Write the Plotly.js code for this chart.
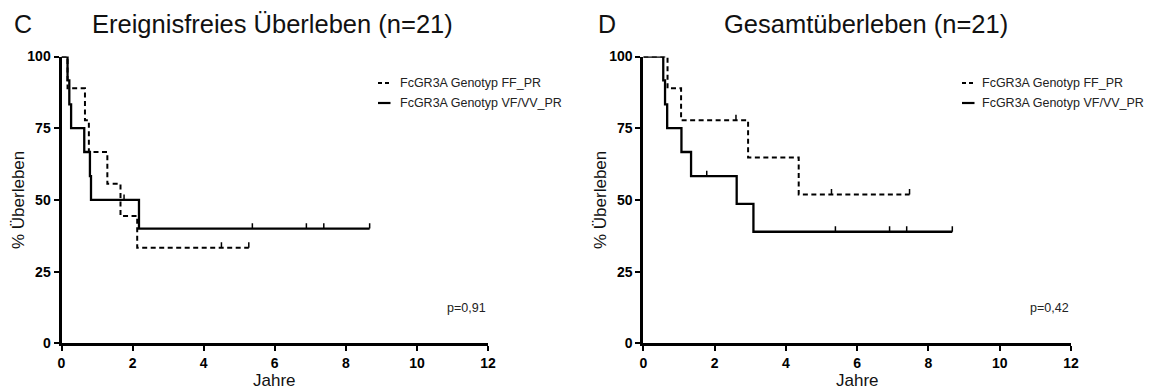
<!DOCTYPE html>
<html>
<head>
<meta charset="utf-8">
<script src="https://cdn.plot.ly/plotly-3.0.1.min.js"></script>
<style>
  html, body { margin: 0; padding: 0; background: #fff; }
  #chart { width: 1157px; height: 390px; }
</style>
</head>
<body>
<div id="chart"></div>
<script>
// Panel C: event-free survival (Kaplan-Meier steps, % surviving after each event)
const efsFFTimes = [0, 0.17, 0.66, 0.77, 1.29, 1.66, 2.13, 5.27];
const efsFFSurv  = [100, 88.9, 77.8, 66.7, 55.6, 44.4, 33.3, 33.3];
const efsFFCens  = [4.5, 5.27];
const efsVVTimes = [0, 0.17, 0.22, 0.27, 0.64, 0.80, 0.83, 2.18, 8.67];
const efsVVSurv  = [100, 91.7, 83.3, 75, 66.7, 58.3, 50, 40, 40];
const efsVVCens  = [1.76, 5.37, 6.89, 7.38, 8.67];

// Panel D: overall survival
const osFFTimes = [0, 0.68, 1.06, 2.94, 4.36, 7.47];
const osFFSurv  = [100, 88.9, 77.8, 64.8, 51.9, 51.9];
const osFFCens  = [2.6, 5.28, 7.47];
const osVVTimes = [0, 0.56, 0.61, 0.67, 1.07, 1.34, 2.62, 3.09, 8.67];
const osVVSurv  = [100, 91.7, 83.3, 75, 66.7, 58.3, 48.6, 38.9, 38.9];
const osVVCens  = [1.78, 5.39, 6.91, 7.39, 8.67];

const seriesNames  = ['FcGR3A Genotyp FF_PR', 'FcGR3A Genotyp VF/VV_PR'];
const panelLetters = ['C', 'D'];
const panelTitles  = ['Ereignisfreies Überleben (n=21)', 'Gesamtüberleben (n=21)'];
const pValues      = ['p=0,91', 'p=0,42'];
const xTitle = 'Jahre';
const yTitle = '% Überleben';
const xTicks = [0, 2, 4, 6, 8, 10, 12];
const yTicks = [0, 25, 50, 75, 100];

const W = 1157, H = 390;
const FONT = 'Liberation Sans, Arial, Helvetica, sans-serif';
const fx = px => px / W;
const fy = py => 1 - py / H;

// survival level of a step curve at time t
function survAt(times, surv, t) {
  let s = surv[0];
  for (let i = 0; i < times.length; i++) if (times[i] <= t) s = surv[i];
  return s;
}

const DASH = '5px,3.5px';

function curve(times, surv, dashed, xa, ya) {
  return {
    type: 'scatter', mode: 'lines', x: times, y: surv, xaxis: xa, yaxis: ya,
    line: { shape: 'hv', color: '#000', width: dashed ? 2 : 2.3, dash: dashed ? DASH : 'solid' },
    cliponaxis: false, showlegend: false, hoverinfo: 'skip'
  };
}

function censorTicks(cens, times, surv, xa, ya) {
  return {
    type: 'scatter', mode: 'markers', x: cens, y: cens.map(t => survAt(times, surv, t)),
    xaxis: xa, yaxis: ya,
    marker: { size: 1, color: 'rgba(0,0,0,0)' },
    error_y: { type: 'data', symmetric: false, array: cens.map(() => 1.9),
               arrayminus: cens.map(() => 0), width: 0, thickness: 1.5, color: '#000' },
    cliponaxis: false, showlegend: false, hoverinfo: 'skip'
  };
}

const data = [
  curve(efsFFTimes, efsFFSurv, true, 'x', 'y'),
  curve(efsVVTimes, efsVVSurv, false, 'x', 'y'),
  censorTicks(efsFFCens, efsFFTimes, efsFFSurv, 'x', 'y'),
  censorTicks(efsVVCens, efsVVTimes, efsVVSurv, 'x', 'y'),
  curve(osFFTimes, osFFSurv, true, 'x2', 'y2'),
  curve(osVVTimes, osVVSurv, false, 'x2', 'y2'),
  censorTicks(osFFCens, osFFTimes, osFFSurv, 'x2', 'y2'),
  censorTicks(osVVCens, osVVTimes, osVVSurv, 'x2', 'y2')
];

const tickFont = { family: FONT, size: 14, color: '#000', weight: 'bold' };
const yDomain = [fy(343.3), fy(56.5)];

function xAxis(domain, anchor) {
  return {
    domain, anchor, range: [0, 12], tickvals: xTicks, ticktext: xTicks.map(String),
    showline: true, linewidth: 3, linecolor: '#000',
    ticks: 'outside', ticklen: 5, tickwidth: 2, tickcolor: '#000',
    tickfont: tickFont, showgrid: false, zeroline: false, fixedrange: true
  };
}
function yAxis(anchor) {
  return {
    domain: yDomain, anchor, range: [0, 100], tickvals: yTicks, ticktext: yTicks.map(String),
    showline: true, linewidth: 3, linecolor: '#000',
    ticks: 'outside', ticklen: 5, tickwidth: 2, tickcolor: '#000',
    tickfont: tickFont, showgrid: false, zeroline: false, fixedrange: true
  };
}

// panel geometry in page pixels
const panels = [
  { left: 61.5, right: 488, letterX: 12, titleCX: 272, yTitleX: 19, legX: 378, legTextX: 398 },
  { left: 643.3, right: 1071, letterX: 596, titleCX: 866, yTitleX: 601, legX: 962, legTextX: 980 }
];

const annotations = [];
const shapes = [];
panels.forEach((p, i) => {
  const cx = (p.left + p.right) / 2;
  annotations.push(
    { xref: 'paper', yref: 'paper', x: fx(p.letterX), y: fy(24), xanchor: 'left', yanchor: 'middle',
      text: panelLetters[i], showarrow: false, font: { family: FONT, size: 25, color: '#111' } },
    { xref: 'paper', yref: 'paper', x: fx(p.titleCX), y: fy(24), xanchor: 'center', yanchor: 'middle',
      text: panelTitles[i], showarrow: false, font: { family: FONT, size: 25.5, color: '#111' } },
    { xref: 'paper', yref: 'paper', x: fx(cx), y: fy(380), xanchor: 'center', yanchor: 'middle',
      text: xTitle, showarrow: false, font: { family: FONT, size: 17, color: '#111' } },
    { xref: 'paper', yref: 'paper', x: fx(p.yTitleX), y: fy(200), xanchor: 'center', yanchor: 'middle',
      text: yTitle, textangle: -90, showarrow: false, font: { family: FONT, size: 17, color: '#111' } },
    { xref: 'paper', yref: 'paper', x: fx(p.right), y: fy(308), xanchor: 'right', yanchor: 'middle',
      text: pValues[i], showarrow: false, font: { family: FONT, size: 12.5, color: '#222' } }
  );
  seriesNames.forEach((name, k) => {
    const ly = 83 + k * 20;
    annotations.push({
      xref: 'paper', yref: 'paper', x: fx(p.legTextX), y: fy(ly), xanchor: 'left', yanchor: 'middle',
      text: name, showarrow: false, font: { family: FONT, size: 12.5, color: '#222' }
    });
    shapes.push({
      type: 'line', xref: 'paper', yref: 'paper',
      x0: fx(p.legX), x1: fx(p.legX + 12.5), y0: fy(ly), y1: fy(ly),
      line: { color: '#000', width: k === 0 ? 1.8 : 2.2, dash: k === 0 ? '4px,3px' : 'solid' }
    });
  });
});

const layout = {
  width: W, height: H,
  margin: { l: 0, r: 0, t: 0, b: 0 },
  paper_bgcolor: '#fff', plot_bgcolor: '#fff',
  showlegend: false,
  font: { family: FONT, color: '#000' },
  xaxis: xAxis([fx(panels[0].left), fx(panels[0].right)], 'y'),
  yaxis: yAxis('x'),
  xaxis2: xAxis([fx(panels[1].left), fx(panels[1].right)], 'y2'),
  yaxis2: yAxis('x2'),
  annotations, shapes
};

Plotly.newPlot('chart', data, layout, { displayModeBar: false, staticPlot: true });
</script>
</body>
</html>
